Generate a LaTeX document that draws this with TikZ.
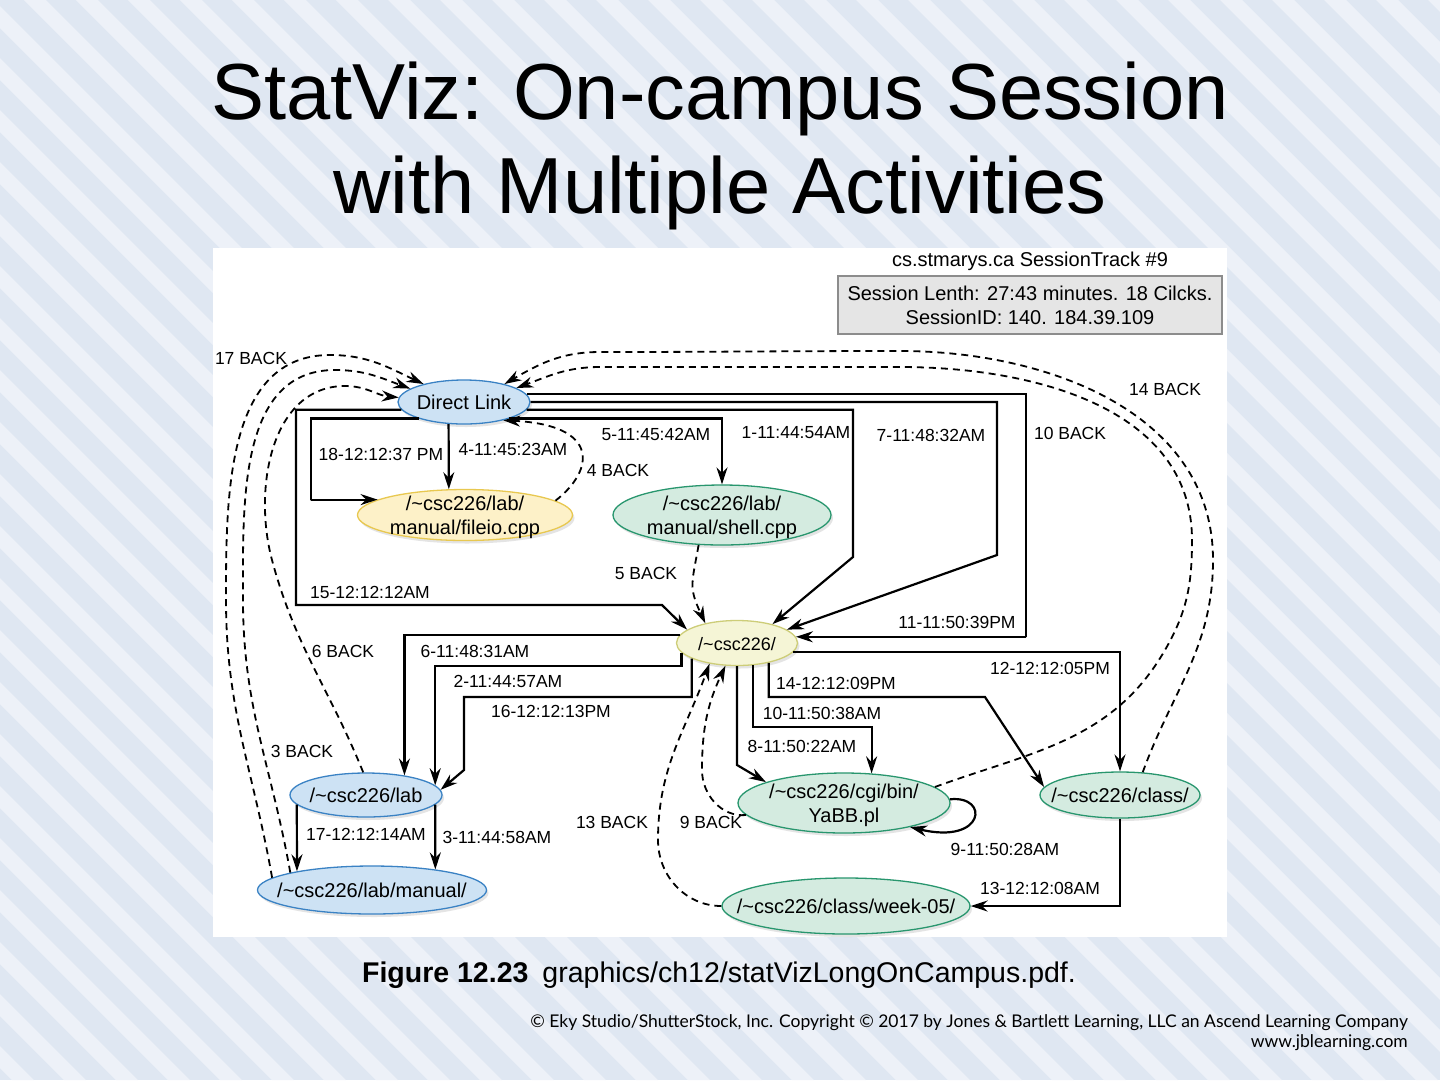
\documentclass[tikz,border=0pt]{standalone}
\usepackage{fontspec}
\setmainfont{Liberation Sans}
\newfontfamily\creditfont{Lato}
\usepackage{tikz}
\usetikzlibrary{shapes,arrows.meta,shadows,positioning}
\definecolor{slidebg}{RGB}{223,231,242}
\definecolor{slidestripe}{RGB}{237,241,248}
\definecolor{linkfill}{RGB}{205,226,244}
\definecolor{linkdraw}{RGB}{58,130,196}
\definecolor{filefill}{RGB}{253,241,200}
\definecolor{filedraw}{RGB}{232,200,80}
\definecolor{pagefill}{RGB}{212,235,224}
\definecolor{pagedraw}{RGB}{40,150,110}
\definecolor{rootfill}{RGB}{245,245,214}
\definecolor{rootdraw}{RGB}{205,205,120}
\newcommand{\ntxt}[1]{\makebox[0pt]{\begin{tabular}{@{}c@{}}#1\end{tabular}}}
\newcommand{\tld}{\textasciitilde}

\begin{document}
\begin{tikzpicture}[x=1pt,y=1pt,
		>={Stealth[length=17pt,width=11pt]},
		ell node/.style={ellipse, line width=1.3pt, inner sep=0pt, text height=15pt, text depth=0pt, font=\fontsize{20}{24}\selectfont, drop shadow={shadow xshift=2pt,shadow yshift=-3pt,fill=black!30,opacity=0.35}},
		blue node/.style={ell node, draw=linkdraw, fill=linkfill},
		green node/.style={ell node, draw=pagedraw, fill=pagefill},
		file node/.style={ell node, draw=filedraw, fill=filefill},
		root node/.style={ell node, draw=rootdraw, fill=rootfill, font=\fontsize{18}{22}\selectfont},
		click/.style={line width=2.2pt, ->},
		back/.style={line width=1.8pt, dash pattern=on 7pt off 5pt, ->},
		time label/.style={inner sep=0pt, font=\fontsize{17.5}{20}\selectfont}]
	\useasboundingbox (0,0) rectangle (1440,-1080);
	\fill[slidebg] (0,0) rectangle (1440,-1080);
	\begin{scope}
		\clip (0,0) rectangle (1440,-1080);
		\foreach \s in {-1120,-1068,...,1440}
		\fill[slidestripe] (\s,0) -- ++(22,0) -- ++(1080,-1080) -- ++(-22,0) -- cycle;
	\end{scope}
	\fill[white] (213,-248) rectangle (1227,-937);
	
	\node[anchor=base, inner sep=0pt, font=\fontsize{79.5}{95}\selectfont] (title1) at (720,-119) {StatViz: On-campus Session};
	\node[anchor=base, inner sep=0pt, font=\fontsize{79.5}{95}\selectfont] (title2) at (720,-213) {with Multiple Activities};
	
	\node[anchor=base, inner sep=0pt, font=\fontsize{20}{24}\selectfont] (10) at (1030,-266) {cs.stmarys.ca SessionTrack \#9};
	\node[rectangle, draw=black!45, line width=1.2pt, fill=black!10, minimum width=384pt, minimum height=58pt, align=center, inner sep=0pt, font=\fontsize{20}{24}\selectfont] (11) at (1030,-305) {Session Lenth: 27:43 minutes. 18 Cilcks.\\SessionID: 140. 184.39.109};
	
	\node[blue node, minimum width=132pt, minimum height=44pt] (1) at (464,-402) {\ntxt{Direct Link}};
	\node[file node, minimum width=215pt, minimum height=51pt] (2) at (465,-515) {\ntxt{/\tld csc226/lab/\\manual/fileio.cpp}};
	\node[green node, minimum width=218pt, minimum height=60pt] (3) at (722,-515) {\ntxt{/\tld csc226/lab/\\manual/shell.cpp}};
	\node[root node, minimum width=121pt, minimum height=45pt] (4) at (737,-643) {\ntxt{/\tld csc226/}};
	\node[blue node, minimum width=152pt, minimum height=44pt] (5) at (366,-795) {\ntxt{/\tld csc226/lab}};
	\node[blue node, minimum width=229pt, minimum height=48pt] (6) at (372,-890) {\ntxt{/\tld csc226/lab/manual/}};
	\node[green node, minimum width=212pt, minimum height=60pt] (7) at (844,-803) {\ntxt{/\tld csc226/cgi/bin/\\YaBB.pl}};
	\node[green node, minimum width=160pt, minimum height=46pt] (8) at (1120,-795) {\ntxt{/\tld csc226/class/}};
	\node[green node, minimum width=248pt, minimum height=56pt] (9) at (846,-906) {\ntxt{/\tld csc226/class/week-05/}};
	
	% clicks
	\draw[click] (1.353) -| (853,-557) -- (4.28);
	\draw[click] (4.190) |- (434,-666) -| (5.8);
	\draw[click] (5.352) -- (6.18);
	\draw[click] (1.235) -- (2.122);
	\draw[click] (1.340) -| (3.90);
	\draw[click] (4.172) -| (5.27);
	\draw[click] (1.0) -| (997,-555) -- (4.15);
	\draw[click] (4.270) -- (737,-765) -- (7.165);
	\draw[click] (7.2) .. controls (990,-795) and (985,-845) .. (7.340);
	\draw[click] (4.305) |- (871,-727) -| (7.47);
	\draw[click] (1.7) -| (1026,-637) |- (4.6);
	\draw[click] (4.351) -| (8.90);
	\draw[click] (8.270) |- (9.0);
	\draw[click] (4.328) |- (985,-697) -- (8.174);
	\draw[click] (1.187) -| (296,-605) -- (662,-605) -- (4.165);
	\draw[click] (4.199) |- (464,-697) -- (464,-770) -- (5.4);
	\draw[click] (5.188) -- (6.166);
	\draw[click] (1.200) -| (311,-500) |- (2.170);
	
	% back steps
	\draw[back] (6.168) to[out=100,in=270] (243,-600) to[out=90,in=180] (335,-370) to[out=0,in=160] (1.166);
	\draw[back] (2.9) .. controls (595,-470) and (600,-425) .. (1.335);
	\draw[back] (3.232) to[out=260,in=115,looseness=1.3] (4.148);
	\draw[back] (5.97) to[out=112,in=285] (272,-560) to[out=105,in=180] (345,-386) to[out=0,in=175] (1.176);
	\draw[back] (7.187) to[out=185,in=270] (702,-770) to[out=90,in=245] (4.243);
	\draw[back] (7.10) to[out=20,in=240] (1165,-650) to[out=60,in=270] (1192,-540) to[out=90,in=0] (900,-367) to[out=180,in=0] (600,-367) to[out=180,in=20] (1.15);
	\draw[back] (9.180) to[out=180,in=270] (658,-840) to[out=90,in=250] (4.217);
	\draw[back] (8.45) to[out=70,in=270] (1213,-560) to[out=90,in=0] (900,-351) to[out=180,in=0] (600,-352) to[out=180,in=30] (1.24);
	\draw[back] (6.173) to[out=100,in=270] (226,-600) to[out=90,in=180] (330,-355) to[out=0,in=155] (1.156);
	
	\node[time label] (c1) at (796,-433) {1-11:44:54AM};
	\node[time label] (c2) at (508,-681) {2-11:44:57AM};
	\node[time label] (c3) at (497,-837) {3-11:44:58AM};
	\node[time label] (c4) at (513,-449) {4-11:45:23AM};
	\node[time label] (c5) at (656,-434) {5-11:45:42AM};
	\node[time label] (c6) at (475,-651) {6-11:48:31AM};
	\node[time label] (c7) at (931,-435) {7-11:48:32AM};
	\node[time label] (c8) at (802,-746) {8-11:50:22AM};
	\node[time label] (c9) at (1005,-849) {9-11:50:28AM};
	\node[time label] (c10) at (822,-713) {10-11:50:38AM};
	\node[time label] (c11) at (957,-622) {11-11:50:39PM};
	\node[time label] (c12) at (1050,-668) {12-12:12:05PM};
	\node[time label] (c13) at (1040,-888) {13-12:12:08AM};
	\node[time label] (c14) at (836,-683) {14-12:12:09PM};
	\node[time label] (c15) at (370,-592) {15-12:12:12AM};
	\node[time label] (c16) at (551,-711) {16-12:12:13PM};
	\node[time label] (c17) at (366,-834) {17-12:12:14AM};
	\node[time label] (c18) at (381,-454) {18-12:12:37 PM};
	\node[time label] (b3) at (302,-751) {3 BACK};
	\node[time label] (b4) at (618,-470) {4 BACK};
	\node[time label] (b5) at (646,-573) {5 BACK};
	\node[time label] (b6) at (343,-651) {6 BACK};
	\node[time label] (b9) at (711,-822) {9 BACK};
	\node[time label] (b10) at (1070,-433) {10 BACK};
	\node[time label] (b13) at (612,-822) {13 BACK};
	\node[time label] (b14) at (1165,-389) {14 BACK};
	\node[time label] (b17) at (251,-358) {17 BACK};
	
	\node[anchor=base, inner sep=0pt, font=\fontsize{28.5}{32}\selectfont] (caption) at (719,-982) {\textbf{Figure 12.23}\hspace{14pt}graphics/ch12/statVizLongOnCampus.pdf.};
	\node[anchor=base east, inner sep=0pt, font=\creditfont\fontsize{17.5}{20}\selectfont] (credit1) at (1408,-1027) {© Eky Studio/ShutterStock, Inc. Copyright © 2017 by Jones \& Bartlett Learning, LLC an Ascend Learning Company};
	\node[anchor=base east, inner sep=0pt, font=\creditfont\fontsize{17.5}{20}\selectfont] (credit2) at (1408,-1047) {www.jblearning.com};
\end{tikzpicture}
\end{document}
